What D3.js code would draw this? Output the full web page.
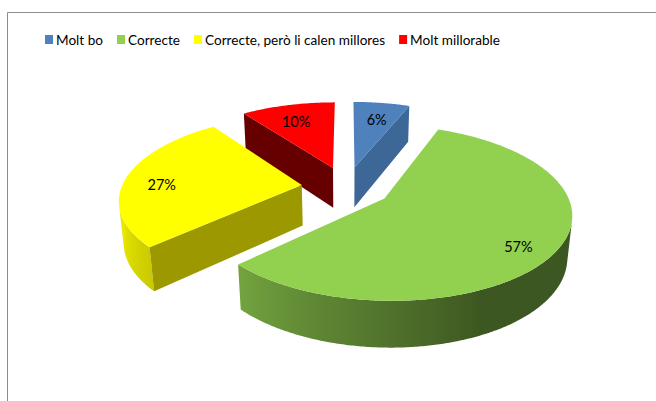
<!DOCTYPE html>
<html>
<head>
<meta charset="utf-8">
<script src="https://d3js.org/d3.v7.min.js"></script>
<style>
  body { margin: 0; background: #fff; }
  text { font-family: Lato, "Open Sans", sans-serif; fill: #000; }
</style>
</head>
<body>
<script>
// data
var categories = ["Molt bo", "Correcte", "Correcte, però li calen millores", "Molt millorable"];
var values = [6, 57, 27, 10];

// styles
var topColors = ["#4f81bd", "#92d050", "#ffff00", "#ff0000"];
var cutColors = ["#3d6797", "#5d8a30", "#9c9900", "#660000"];

var width = 656, height = 401;

var svg = d3.select("body").append("svg")
    .attr("width", width)
    .attr("height", height);

var defs = svg.append("defs");

// chart frame (cropped on the right and bottom)
svg.append("path")
    .attr("d", "M7.5," + height + " V12.5 H" + width)
    .attr("fill", "none")
    .attr("stroke", "#8c8c8c");

// ---- 3d pie setup ----
var cx = 346.4, cy = 186.8;           // screen point of the pie centre
var radius = d3.scaleLinear().domain([0, 1]).range([0, 180]);
var tilt = 27 * Math.PI / 180;
var dist = 5.57;                      // camera distance, in radii
var thick = 0.26;                     // pie thickness, in radii
var explode = 0.25;

var cam = [0, -dist * Math.cos(tilt), dist * Math.sin(tilt)];

function project(u, v, z) {
  var k = dist / (dist + v * Math.cos(tilt) - z * Math.sin(tilt));
  return [cx + radius(u) * k, cy - radius(v * Math.sin(tilt) + z * Math.cos(tilt)) * k];
}

// how strongly a face looks at the camera
function facing(p, n) {
  var d = [cam[0] - p[0], cam[1] - p[1], cam[2] - p[2]];
  var len = Math.sqrt(d[0] * d[0] + d[1] * d[1] + d[2] * d[2]);
  return (d[0] * n[0] + d[1] * n[1] + d[2] * n[2]) / len;
}

// light on the outer wall, by angle in degrees
var wallLight = d3.scaleLinear().domain([155, 230, 260]).range([0.42, 0.8, 0.93]).clamp(true);

function shade(col, f) {
  var c = d3.rgb(col);
  return d3.rgb(c.r * f, c.g * f, c.b * f).formatHex();
}

var pie = d3.pie().sort(null).value(function(d) { return d; });
var arcs = pie(values);

var slices = arcs.map(function(a, i) {
  var mid = (a.startAngle + a.endAngle) / 2;
  var s = {
    i: i, a0: a.startAngle, a1: a.endAngle, mid: mid,
    au: explode * Math.sin(mid), av: explode * Math.cos(mid)
  };
  s.pt = function(r, th, z) {
    return project(s.au + r * Math.sin(th), s.av + r * Math.cos(th), z);
  };
  s.depth = s.av + 0.6 * Math.cos(mid);
  return s;
});

var line = d3.line();

// back slices first
slices.slice().sort(function(a, b) { return b.depth - a.depth; }).forEach(function(s) {
  var g = svg.append("g");
  var n = Math.max(8, Math.ceil((s.a1 - s.a0) / 0.01));
  var ths = d3.range(n + 1).map(function(j) { return s.a0 + (s.a1 - s.a0) * j / n; });

  // outer wall, visible stretches only
  var runs = [], cur = null;
  ths.forEach(function(th) {
    var p = [s.au + Math.sin(th), s.av + Math.cos(th), 0];
    var vis = facing(p, [Math.sin(th), Math.cos(th), 0]) > 0;
    if (vis) { if (!cur) { cur = []; runs.push(cur); } cur.push(th); }
    else cur = null;
  });
  runs.forEach(function(run, ri) {
    if (run.length < 2) return;
    var top = run.map(function(th) { return s.pt(1, th, 0); });
    var bot = run.map(function(th) { return s.pt(1, th, -thick); }).reverse();
    var id = "wall" + s.i + "_" + ri;
    var xs = run.map(function(th) { return s.pt(1, th, -thick)[0]; });
    var x1 = d3.min(xs), x2 = d3.max(xs);
    var grad = defs.append("linearGradient").attr("id", id)
        .attr("gradientUnits", "userSpaceOnUse")
        .attr("x1", x1).attr("x2", x2).attr("y1", 0).attr("y2", 0);
    var step = Math.max(1, Math.floor(run.length / 24));
    run.filter(function(d, j) { return j % step === 0 || j === run.length - 1; })
      .map(function(th) {
        return { x: s.pt(1, th, -thick)[0], c: shade(topColors[s.i], wallLight(th * 180 / Math.PI)) };
      })
      .sort(function(a, b) { return a.x - b.x; })
      .forEach(function(st) {
        grad.append("stop")
            .attr("offset", x2 > x1 ? (st.x - x1) / (x2 - x1) : 0)
            .attr("stop-color", st.c);
      });
    g.append("path")
        .attr("d", line(top.concat(bot)) + "Z")
        .attr("fill", "url(#" + id + ")");
  });

  // the two cut faces
  [[s.a0, [-Math.cos(s.a0), Math.sin(s.a0), 0]], [s.a1, [Math.cos(s.a1), -Math.sin(s.a1), 0]]]
    .forEach(function(f) {
      if (facing([s.au, s.av, 0], f[1]) < 0.05) return;
      var pts = [s.pt(0, f[0], 0), s.pt(1, f[0], 0), s.pt(1, f[0], -thick), s.pt(0, f[0], -thick)];
      g.append("path")
          .attr("d", line(pts) + "Z")
          .attr("fill", cutColors[s.i]);
    });

  // top face
  var topPts = [s.pt(0, s.a0, 0)].concat(ths.map(function(th) { return s.pt(1, th, 0); }));
  g.append("path")
      .attr("d", line(topPts) + "Z")
      .attr("fill", topColors[s.i]);
});

// labels
var fmt = d3.format(".0%");
var total = d3.sum(values);
function labelPos(d) { return d.pt(0.8, d.mid, -thick * 0.15); }
svg.append("g").selectAll("text")
  .data(slices)
  .join("text")
    .attr("x", function(d) { return labelPos(d)[0]; })
    .attr("y", function(d) { return labelPos(d)[1]; })
    .attr("dy", "0.35em")
    .attr("text-anchor", "middle")
    .attr("font-size", 14.5)
    .text(function(d) { return fmt(values[d.i] / total); });

// legend
var legend = svg.append("g").attr("transform", "translate(45,40)");
var lx = 0;
categories.forEach(function(c, i) {
  var item = legend.append("g").attr("transform", "translate(" + lx + ",0)");
  item.append("rect")
      .attr("x", 0).attr("y", -5)
      .attr("width", 8).attr("height", 9)
      .attr("fill", topColors[i]);
  var t = item.append("text")
      .attr("x", 11).attr("y", 0)
      .attr("dy", "0.35em")
      .attr("font-size", 13.6)
      .text(c);
  lx += 11 + t.node().getComputedTextLength() + 14;
});
</script>
</body>
</html>
